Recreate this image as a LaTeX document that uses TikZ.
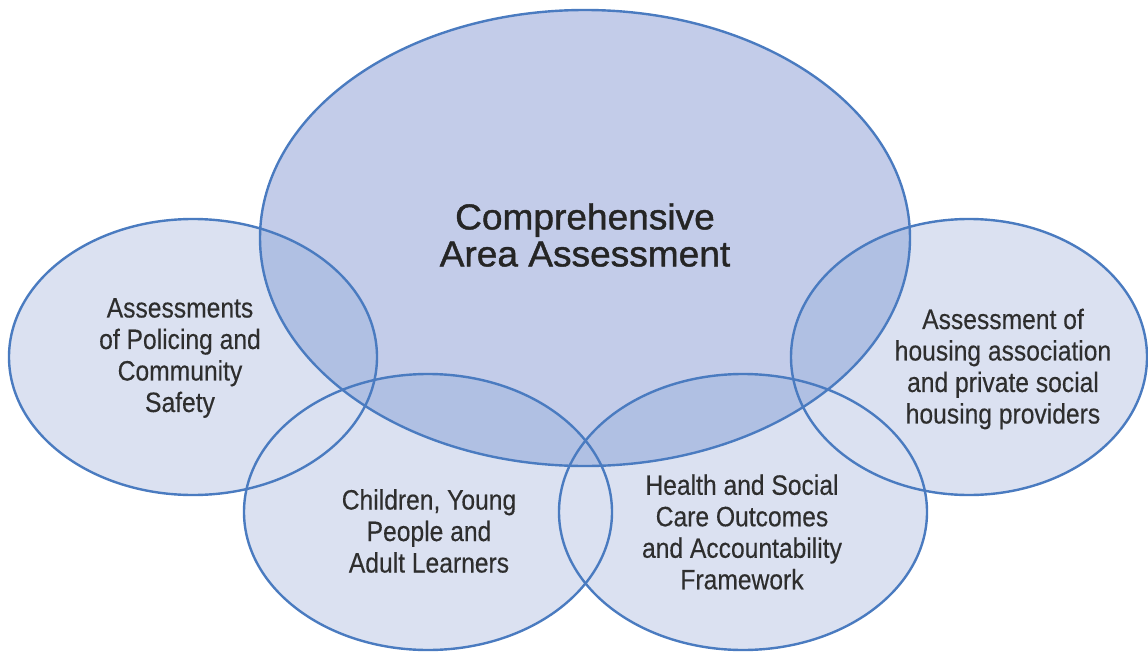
\documentclass[tikz,border=0pt]{standalone}
\usepackage{fontspec}
\setmainfont{Liberation Sans}
\newfontfamily\bodyfont{Liberation Sans}[FakeStretch=0.88,FakeBold=0.3]
\newfontfamily\headfont{Liberation Sans}[FakeStretch=1.03,FakeBold=1.2]
\definecolor{ringline}{HTML}{4A7BC0}
\definecolor{smallfill}{HTML}{DBE1F1}
\definecolor{bigfill}{HTML}{C3CCE9}
\definecolor{bothfill}{HTML}{B0C0E3}
\definecolor{inktext}{HTML}{2E2E2E}
\tikzset{
  ring/.style={draw=ringline, line width=2.4pt},
  label/.style={text=inktext, align=center, inner sep=0pt,
    font=\bodyfont\fontsize{28}{31.5}\selectfont},
  headlabel/.style={text=inktext!80!black, align=center, inner sep=0pt,
    font=\headfont\fontsize{36}{37}\selectfont},
}
\begin{document}
\begin{tikzpicture}[x=1pt,y=-1pt]
  \useasboundingbox (0,0) rectangle (1148,653);
  \fill[white] (0,0) rectangle (1148,653);

  % centres of the five areas
  \coordinate (caa)  at (585,238);
  \coordinate (pol)  at (193,357);
  \coordinate (cyp)  at (428,512);
  \coordinate (hsc)  at (743,512);
  \coordinate (hou)  at (969,357);

  % outer assessments
  \foreach \c/\r in {pol/184,cyp/184,hsc/184,hou/178}
    \fill[smallfill] (\c) ellipse [x radius=\r, y radius=138];

  % comprehensive area assessment
  \fill[bigfill] (caa) ellipse [x radius=325, y radius=228];

  % overlaps with the central area
  \begin{scope}
    \clip (caa) ellipse [x radius=325, y radius=228];
    \foreach \c/\r in {pol/184,cyp/184,hsc/184,hou/178}
      \fill[bothfill] (\c) ellipse [x radius=\r, y radius=138];
  \end{scope}

  % outlines
  \foreach \c/\r in {pol/184,cyp/184,hsc/184,hou/178}
    \draw[ring] (\c) ellipse [x radius=\r, y radius=138];
  \draw[ring] (caa) ellipse [x radius=325, y radius=228];

  % texts
  \node[headlabel] (tcaa) at (585,235) {Comprehensive\\Area Assessment};
  \node[label] (tpol) at (180,358) {Assessments\\of Policing and\\Community\\Safety};
  \node[label] (tcyp) at (429,531) {Children, Young\\People and\\Adult Learners};
  \node[label] (thsc) at (742,532) {Health and Social\\Care Outcomes\\and Accountability\\Framework};
  \node[label] (thou) at (1003,369) {Assessment of\\housing association\\and private social\\housing providers};
\end{tikzpicture}
\end{document}
